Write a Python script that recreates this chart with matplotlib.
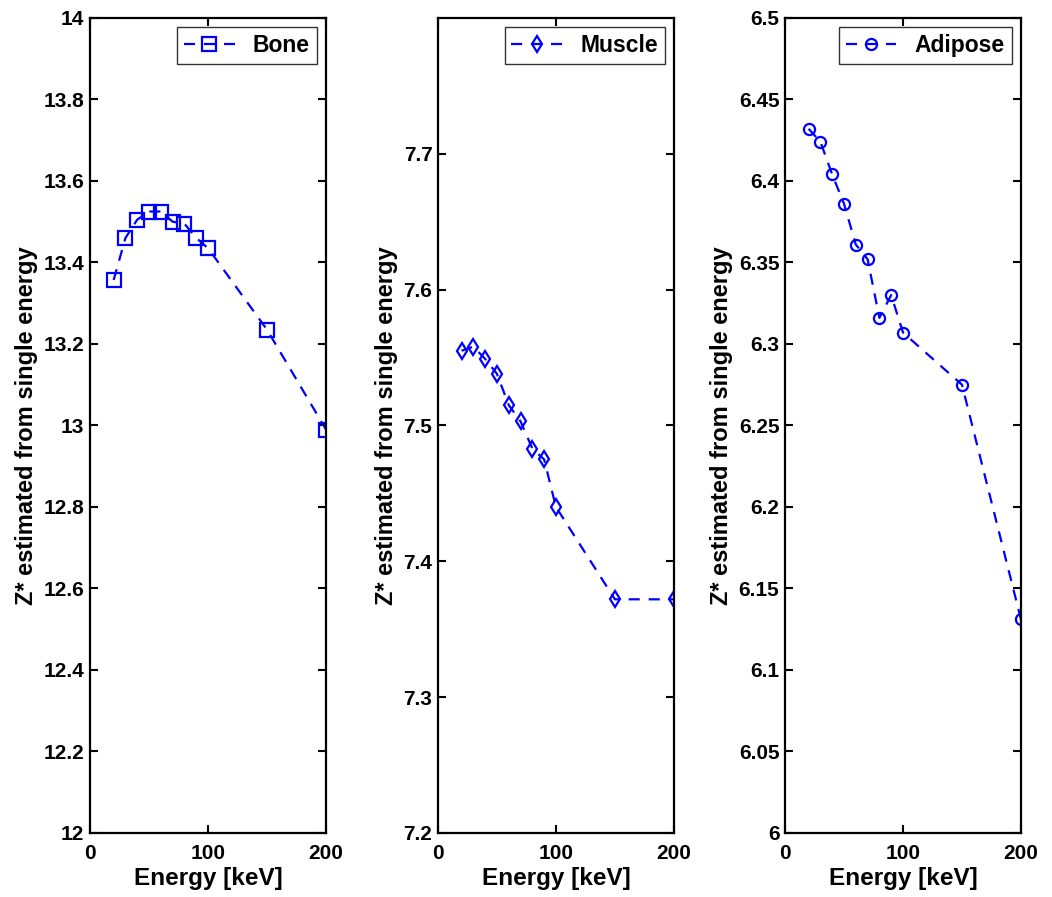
import matplotlib
matplotlib.use('Agg')
import matplotlib.pyplot as plt

plt.rcParams['font.family'] = ['Liberation Sans', 'DejaVu Sans']
plt.rcParams['font.weight'] = 'bold'

energy = [20, 30, 40, 50, 60, 70, 80, 90, 100, 150, 200]
bone = [13.357, 13.46, 13.505, 13.525, 13.525, 13.50, 13.495, 13.46, 13.435, 13.235, 12.99]
muscle = [7.555, 7.558, 7.549, 7.538, 7.515, 7.503, 7.483, 7.475, 7.44, 7.372, 7.372]
adipose = [6.432, 6.424, 6.404, 6.386, 6.361, 6.352, 6.316, 6.330, 6.307, 6.275, 6.131]

panels = [
    ('Bone', bone, 's', 10, (12, 14), [12, 12.2, 12.4, 12.6, 12.8, 13, 13.2, 13.4, 13.6, 13.8, 14],
     ['12', '12.2', '12.4', '12.6', '12.8', '13', '13.2', '13.4', '13.6', '13.8', '14']),
    ('Muscle', muscle, 'd', 8, (7.2, 7.8), [7.2, 7.3, 7.4, 7.5, 7.6, 7.7],
     ['7.2', '7.3', '7.4', '7.5', '7.6', '7.7']),
    ('Adipose', adipose, 'o', 8, (6, 6.5), [6, 6.05, 6.1, 6.15, 6.2, 6.25, 6.3, 6.35, 6.4, 6.45, 6.5],
     ['6', '6.05', '6.1', '6.15', '6.2', '6.25', '6.3', '6.35', '6.4', '6.45', '6.5']),
]
lefts = [0.0856, 0.4163, 0.7462]

fig = plt.figure(figsize=(10.52, 8.97), dpi=100)
for (name, vals, mk, ms, ylim, yt, ytl), left in zip(panels, lefts):
    ax = fig.add_axes([left, 0.0714, 0.2243, 0.9086])
    ax.plot(energy, vals, linestyle='--', color='blue', marker=mk, markersize=ms,
            markerfacecolor='none', markeredgecolor='blue', markeredgewidth=1.6,
            linewidth=1.6, dashes=(5, 4), label=name)
    ax.set_xlim(0, 200)
    ax.set_ylim(*ylim)
    ax.set_xticks([0, 100, 200])
    ax.set_yticks(yt)
    ax.set_yticklabels(ytl)
    ax.tick_params(direction='in', length=6, width=1.5, top=True, right=True,
                   labelsize=15)
    ax.tick_params(axis='x', pad=8)
    ax.tick_params(axis='y', pad=4)
    for lab in ax.get_xticklabels() + ax.get_yticklabels():
        lab.set_fontweight('bold')
    for sp in ax.spines.values():
        sp.set_linewidth(1.6)
    ax.set_xlabel('Energy [keV]', fontsize=17.5, fontweight='bold', labelpad=3)
    ax.set_ylabel('Z* estimated from single energy', fontsize=17, fontweight='bold', labelpad=4)
    leg = ax.legend(loc='upper right', fontsize=16.5, frameon=True, fancybox=False,
                    borderaxespad=0.4, handlelength=2.2, borderpad=0.3)
    leg.get_frame().set_edgecolor('black')
    leg.get_frame().set_linewidth(1.0)

fig.savefig('out.png', dpi=100)
